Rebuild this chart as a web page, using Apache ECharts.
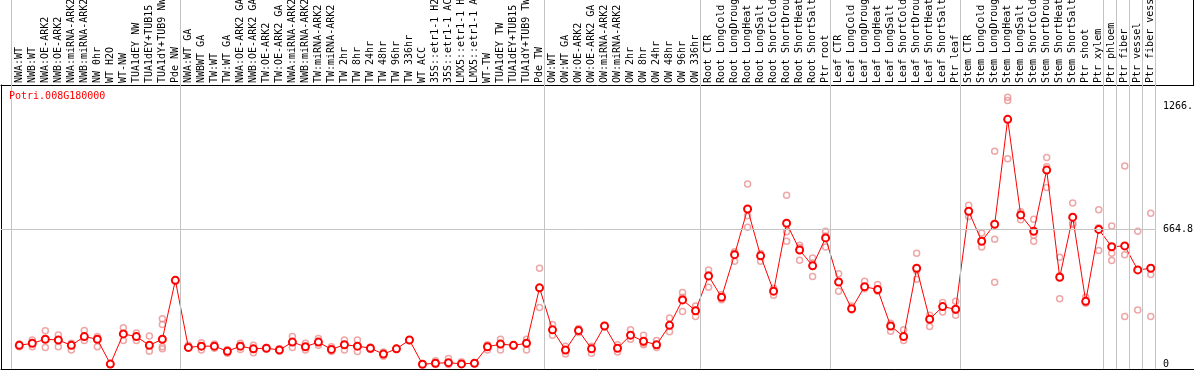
<!DOCTYPE html>
<html><head><meta charset="utf-8">
<script src="https://cdn.jsdelivr.net/npm/echarts@6/dist/echarts.min.js"></script>
<style>html,body{margin:0;padding:0;background:#fff}#c{width:1194px;height:370px}</style>
</head><body><div id="c"></div>
<script>
const categories = [
 'NWA:WT','NWB:WT','NWA:OE-ARK2','NWB:OE-ARK2','NWA:miRNA-ARK2','NWB:miRNA-ARK2','NW 0hr','WT H2O','WT-NW','TUA1dEY NW','TUA1dEY+TUB15 NW','TUA1dY+TUB9 NW','Pde NW',
 'NWA:WT GA','NWBWT GA','TW:WT','TW:WT GA','NWA:OE-ARK2 GA','NWB:OE-ARK2 GA','TW:OE-ARK2','TW:OE-ARK2 GA','NWA:miRNA-ARK2','NWB:miRNA-ARK2','TW:miRNA-ARK2','TW:miRNA-ARK2',
 'TW 2hr','TW 8hr','TW 24hr','TW 48hr','TW 96hr','TW 336hr','WT ACC','35S::etr1-1 H2O','35S::etr1-1 ACC','LMX5::etr1-1 H2O','LMX5::etr1-1 ACC','WT-TW','TUA1dEY TW','TUA1dEY+TUB15 TW','TUA1dY+TUB9 TW','Pde TW',
 'OW:WT','OW:WT GA','OW:OE-ARK2','OW:OE-ARK2 GA','OW:miRNA-ARK2','OW:miRNA-ARK2','OW 2hr','OW 8hr','OW 24hr','OW 48hr','OW 96hr','OW 336hr',
 'Root CTR','Root LongCold','Root LongDrought','Root LongHeat','Root LongSalt','Root ShortCold','Root ShortDrought','Root ShortHeat','Root ShortSalt','Ptr root',
 'Leaf CTR','Leaf LongCold','Leaf LongDrought','Leaf LongHeat','Leaf LongSalt','Leaf ShortCold','Leaf ShortDrought','Leaf ShortHeat','Leaf ShortSalt','Ptr leaf',
 'Stem CTR','Stem LongCold','Stem LongDrought','Stem LongHeat','Stem LongSalt','Stem ShortCold','Stem ShortDrought','Stem ShortHeat','Stem ShortSalt','Ptr shoot','Ptr xylem',
 'Ptr phloem','Ptr fiber','Ptr vessel','Ptr fiber vessel'
];
const meanValues = [
 94,104,124,120,94,137,124,2,150,137,94,124,413,
 84,90,90,65,90,77,80,71,110,87,110,74,97,90,80,51,77,120,1,6,9,3,6,87,100,94,104,376,
 170,71,167,77,189,80,144,114,97,192,317,264,
 434,330,539,763,533,360,693,562,484,621,
 405,274,382,368,189,137,472,222,284,271,
 752,605,688,1203,734,654,954,428,723,310,663,
 578,582,464,472
];
const rep1 = [
 100,120,165,145,104,167,137,2,180,154,140,225,413,
 94,107,100,74,104,94,80,77,137,104,127,87,120,120,74,61,77,120,1,19,29,13,6,97,124,94,124,472,
 196,90,177,90,192,97,170,144,118,228,353,287,
 464,343,553,886,507,374,830,585,523,654,
 445,287,409,392,202,170,546,242,304,310,
 782,645,1046,1311,749,713,1016,526,792,330,759,
 680,974,654,742
];
const rep2 = [
 87,87,84,87,71,118,87,0,118,118,65,196,410,
 84,71,80,55,74,58,84,71,84,71,94,64,71,64,80,41,74,118,0,0,0,3,4,71,71,90,71,280,
 144,51,157,55,185,61,124,97,84,161,260,235,
 379,318,507,673,545,340,651,512,432,576,
 360,274,372,360,163,118,418,186,258,242,
 726,576,615,1295,710,634,970,323,693,300,559,
 546,539,268,441
];
const rep3 = [
 94,104,124,120,94,137,124,4,150,137,94,87,416,
 80,90,90,65,90,77,77,66,110,87,110,74,97,90,86,51,80,122,2,6,9,0,8,87,100,97,104,376,
 170,71,167,77,189,80,144,104,97,192,330,264,
 440,330,545,730,533,360,605,574,498,630,
 405,268,382,368,189,137,460,222,284,265,
 752,605,404,1010,734,605,869,435,687,310,671,
 510,235,464,235
];
const extraReps = [[11, 77]];
const groupLastIndex = [-1, 12, 40, 52, 62, 72, 83, 84, 85, 86, 87];
const yTickValues = [0, 664.8, 1266];
const yTickLabels = ['0', '664.8', '1266.'];
const title = 'Potri.008G180000';

const FONT = '"DejaVu Sans Mono", "Liberation Mono", monospace';
const PX0 = 19.3, STEP = 13.005;
const PLOT_L = 1, PLOT_R = 1156;
const XMIN = (PLOT_L - PX0) / STEP, XMAX = (PLOT_R - PX0) / STEP;
const Y0PX = 364.5, YSCALE = 0.2038, TOP = 85, BOTTOM = 368.8;
const YMIN = -(BOTTOM - Y0PX) / YSCALE, YMAX = (Y0PX - TOP) / YSCALE;

const idx = categories.map((_, i) => i);
const meanData = meanValues.map((v, i) => [i, v]);
const repData = [];
[rep1, rep2, rep3].forEach(r => r.forEach((v, i) => repData.push([i, v])));
extraReps.forEach(p => repData.push(p));
const sepValues = groupLastIndex.map(i => i + 0.36);

const frameAxis = {
  type: 'value', axisLine: { show: true, onZero: false, lineStyle: { color: '#000', width: 1 } },
  axisLabel: { show: false }, axisTick: { show: false }, splitLine: { show: false }
};

const chart = echarts.init(document.getElementById('c'), null, { renderer: 'canvas' });
chart.setOption({
  animation: false,
  backgroundColor: '#fff',
  title: { text: title, left: 9, top: 91, padding: 0,
    textStyle: { fontFamily: FONT, fontSize: 10, fontWeight: 'normal', color: '#ff0000' } },
  grid: [
    { left: PLOT_L, right: 1194 - PLOT_R, top: TOP, bottom: 370 - BOTTOM, outerBoundsMode: 'none', containLabel: false },
    { left: PLOT_L, right: 1194 - PLOT_R, top: 0, bottom: 370 - BOTTOM, outerBoundsMode: 'none', containLabel: false },
    { left: PLOT_L, right: 0, top: TOP, bottom: 370 - BOTTOM, outerBoundsMode: 'none', containLabel: false },
    { left: PLOT_L, right: 1, top: 0, bottom: 370 - TOP, outerBoundsMode: 'none', containLabel: false }
  ],
  xAxis: [
    { gridIndex: 0, type: 'value', position: 'top', min: XMIN, max: XMAX,
      axisLine: { show: false, onZero: false }, axisTick: { show: false }, splitLine: { show: false },
      axisLabel: { customValues: idx, rotate: -90, margin: 2, interval: 0, align: 'left', verticalAlign: 'middle',
        formatter: v => categories[Math.round(v)], fontFamily: FONT, fontSize: 10, color: '#000' } },
    { gridIndex: 1, type: 'value', min: XMIN, max: XMAX, show: false },
    Object.assign({ gridIndex: 2, position: 'top' }, frameAxis),
    Object.assign({ gridIndex: 2, position: 'bottom' }, frameAxis),
    { gridIndex: 3, type: 'value', show: false }
  ],
  yAxis: [
    { gridIndex: 0, type: 'value', position: 'right', min: YMIN, max: YMAX,
      axisLine: { show: false }, axisTick: { show: false }, splitLine: { show: false },
      axisLabel: { customValues: yTickValues, margin: 7, fontFamily: FONT, fontSize: 10, color: '#000',
        formatter: v => yTickLabels[yTickValues.indexOf(v)] } },
    { gridIndex: 1, type: 'value', min: 0, max: 1, show: false },
    Object.assign({ gridIndex: 2, position: 'left' }, frameAxis),
    Object.assign({ gridIndex: 3, position: 'right' }, frameAxis)
  ],
  series: [
    { type: 'line', xAxisIndex: 1, yAxisIndex: 1, data: [], silent: true, z: 1,
      markLine: { silent: true, symbol: ['none', 'none'], label: { show: false },
        lineStyle: { color: '#c4c4c4', width: 1, type: 'solid' },
        data: sepValues.map(v => ({ xAxis: v })) } },
    { type: 'scatter', xAxisIndex: 0, yAxisIndex: 0, data: repData, z: 3,
      symbol: 'circle', symbolSize: 6,
      itemStyle: { color: 'rgba(0,0,0,0)', borderColor: '#ea9090', borderWidth: 1.5 },
      markLine: { silent: true, symbol: ['none', 'none'], label: { show: false },
        lineStyle: { color: '#c4c4c4', width: 1, type: 'solid' },
        data: [{ yAxis: yTickValues[1] }] } },
    { type: 'line', xAxisIndex: 0, yAxisIndex: 0, data: meanData, z: 4,
      symbol: 'emptyCircle', symbolSize: 7, showAllSymbol: true,
      lineStyle: { color: '#ff0000', width: 1 },
      itemStyle: { color: '#ff0000', borderColor: '#ff0000', borderWidth: 2 } }
  ]
});
</script>
</body></html>
